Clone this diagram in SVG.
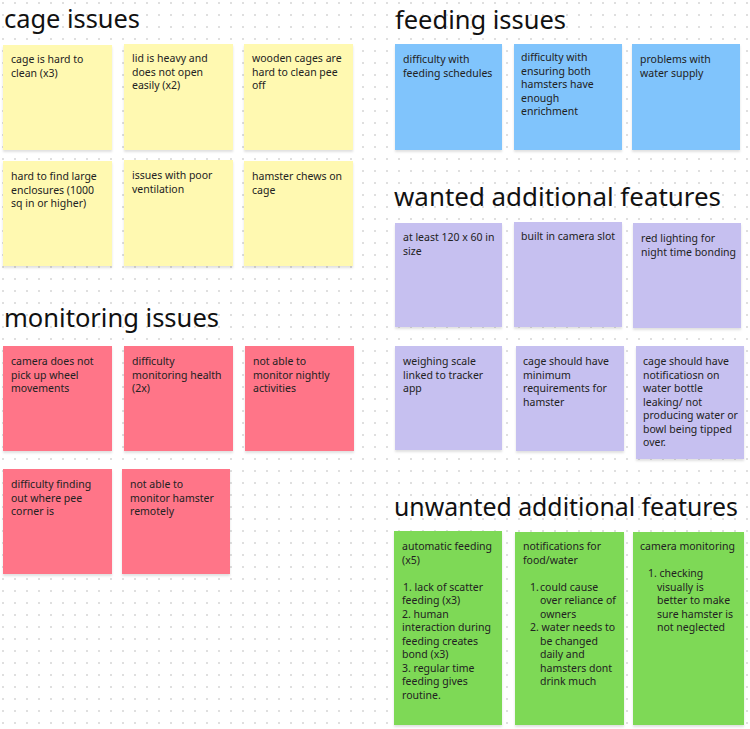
<svg xmlns="http://www.w3.org/2000/svg" width="750" height="729" viewBox="0 0 750 729">
<defs>
<pattern id="dots" x="0" y="0" width="12" height="12" patternUnits="userSpaceOnUse"><circle cx="3" cy="3" r="1" fill="#d4d4d4"/></pattern>
<filter id="sh" x="-5%" y="-5%" width="110%" height="115%"><feDropShadow dx="0" dy="2" stdDeviation="1" flood-color="#000" flood-opacity="0.12"/></filter>
</defs>
<style>
.t{font-family:"Noto Sans","Liberation Sans",sans-serif;font-size:25px;fill:#111}
.n{font-family:"Noto Sans","Liberation Sans",sans-serif;font-size:10.5px;fill:#222}
.y{fill:#fff9b1;filter:url(#sh)}
.r{fill:#ff7588;filter:url(#sh)}
.b{fill:#80c4fc;filter:url(#sh)}
.p{fill:#c6c0f0;filter:url(#sh)}
.g{fill:#7ed957;filter:url(#sh)}
</style>
<rect width="750" height="729" fill="#fff"/>
<rect width="750" height="729" fill="url(#dots)"/>
<g id="titles">
<text class="t" x="4" y="28" textLength="136" lengthAdjust="spacingAndGlyphs">cage issues</text>
<text class="t" x="4" y="327" textLength="215" lengthAdjust="spacingAndGlyphs">monitoring issues</text>
<text class="t" x="395" y="29" textLength="171" lengthAdjust="spacingAndGlyphs">feeding issues</text>
<text class="t" x="394" y="206" textLength="327" lengthAdjust="spacingAndGlyphs">wanted additional features</text>
<text class="t" x="394" y="516" textLength="344" lengthAdjust="spacingAndGlyphs">unwanted additional features</text>
</g>
<g id="connectors"/>
<g id="cage1"><rect class="y" x="3" y="45" width="109" height="105"/><text class="n" x="11" y="63">cage is hard to<tspan x="11" dy="13.5">clean (x3)</tspan></text></g>
<g id="cage2"><rect class="y" x="124" y="44" width="109" height="106"/><text class="n" x="132" y="62">lid is heavy and<tspan x="132" dy="13.5">does not open</tspan><tspan x="132" dy="13.5">easily (x2)</tspan></text></g>
<g id="cage3"><rect class="y" x="244" y="44" width="109" height="106"/><text class="n" x="252" y="62">wooden cages are<tspan x="252" dy="13.5">hard to clean pee</tspan><tspan x="252" dy="13.5">off</tspan></text></g>
<g id="cage4"><rect class="y" x="3" y="161" width="109" height="105"/><text class="n" x="11" y="180">hard to find large<tspan x="11" dy="13.5">enclosures (1000</tspan><tspan x="11" dy="13.5">sq in or higher)</tspan></text></g>
<g id="cage5"><rect class="y" x="124" y="160" width="109" height="106"/><text class="n" x="132" y="179">issues with poor<tspan x="132" dy="13.5">ventilation</tspan></text></g>
<g id="cage6"><rect class="y" x="244" y="161" width="109" height="105"/><text class="n" x="252" y="180">hamster chews on<tspan x="252" dy="13.5">cage</tspan></text></g>
<g id="mon1"><rect class="r" x="3" y="346" width="109" height="105"/><text class="n" x="11" y="365">camera does not<tspan x="11" dy="13.5">pick up wheel</tspan><tspan x="11" dy="13.5">movements</tspan></text></g>
<g id="mon2"><rect class="r" x="124" y="346" width="109" height="105"/><text class="n" x="132" y="365">difficulty<tspan x="132" dy="13.5">monitoring health</tspan><tspan x="132" dy="13.5">(2x)</tspan></text></g>
<g id="mon3"><rect class="r" x="245" y="346" width="109" height="105"/><text class="n" x="253" y="365">not able to<tspan x="253" dy="13.5">monitor nightly</tspan><tspan x="253" dy="13.5">activities</tspan></text></g>
<g id="mon4"><rect class="r" x="3" y="469" width="109" height="105"/><text class="n" x="11" y="488">difficulty finding<tspan x="11" dy="13.5">out where pee</tspan><tspan x="11" dy="13.5">corner is</tspan></text></g>
<g id="mon5"><rect class="r" x="122" y="469" width="108" height="105"/><text class="n" x="130" y="488">not able to<tspan x="130" dy="13.5">monitor hamster</tspan><tspan x="130" dy="13.5">remotely</tspan></text></g>
<g id="feed1"><rect class="b" x="395" y="44" width="107" height="106"/><text class="n" x="403" y="63">difficulty with<tspan x="403" dy="13.5">feeding schedules</tspan></text></g>
<g id="feed2"><rect class="b" x="514" y="44" width="108" height="106"/><text class="n" x="521" y="61">difficulty with<tspan x="521" dy="13.5">ensuring both</tspan><tspan x="521" dy="13.5">hamsters have</tspan><tspan x="521" dy="13.5">enough</tspan><tspan x="521" dy="13.5">enrichment</tspan></text></g>
<g id="feed3"><rect class="b" x="632" y="44" width="108" height="106"/><text class="n" x="640" y="63">problems with<tspan x="640" dy="13.5">water supply</tspan></text></g>
<g id="want1"><rect class="p" x="395" y="223" width="107" height="104"/><text class="n" x="403" y="241">at least 120 x 60 in<tspan x="403" dy="13.5">size</tspan></text></g>
<g id="want2"><rect class="p" x="514" y="222" width="108" height="105"/><text class="n" x="521" y="240">built in camera slot</text></g>
<g id="want3"><rect class="p" x="633" y="223" width="108" height="105"/><text class="n" x="641" y="242">red lighting for<tspan x="641" dy="13.5">night time bonding</tspan></text></g>
<g id="want4"><rect class="p" x="395" y="346" width="107" height="104"/><text class="n" x="403" y="365">weighing scale<tspan x="403" dy="13.5">linked to tracker</tspan><tspan x="403" dy="13.5">app</tspan></text></g>
<g id="want5"><rect class="p" x="516" y="346" width="108" height="105"/><text class="n" x="523" y="365">cage should have<tspan x="523" dy="13.5">minimum</tspan><tspan x="523" dy="13.5">requirements for</tspan><tspan x="523" dy="13.5">hamster</tspan></text></g>
<g id="want6"><rect class="p" x="636" y="346" width="108" height="113"/><text class="n" x="643" y="365">cage should have<tspan x="643" dy="13.5">notificatiosn on</tspan><tspan x="643" dy="13.5">water bottle</tspan><tspan x="643" dy="13.5">leaking/ not</tspan><tspan x="643" dy="13.5">producing water or</tspan><tspan x="643" dy="13.5">bowl being tipped</tspan><tspan x="643" dy="13.5">over.</tspan></text></g>
<g id="unw1"><rect class="g" x="394" y="531" width="108" height="194"/><text class="n" x="402" y="550">automatic feeding<tspan x="402" dy="13.5">(x5)</tspan><tspan x="403" dy="27">1. lack of scatter</tspan><tspan x="402" dy="13.5">feeding (x3)</tspan><tspan x="402" dy="13.5">2.  human</tspan><tspan x="402" dy="13.5">interaction during</tspan><tspan x="402" dy="13.5">feeding creates</tspan><tspan x="402" dy="13.5">bond (x3)</tspan><tspan x="402" dy="13.5">3. regular time</tspan><tspan x="402" dy="13.5">feeding gives</tspan><tspan x="402" dy="13.5">routine.</tspan></text></g>
<g id="unw2"><rect class="g" x="515" y="532" width="109" height="193"/><text class="n" x="523" y="550">notifications for<tspan x="523" dy="13.5">food/water</tspan><tspan x="530" dy="27">1.</tspan><tspan x="540">could cause</tspan><tspan x="540" dy="13.5">over reliance of</tspan><tspan x="540" dy="13.5">owners</tspan><tspan x="530" dy="13.5">2. water needs to</tspan><tspan x="540" dy="13.5">be changed</tspan><tspan x="540" dy="13.5">daily and</tspan><tspan x="540" dy="13.5">hamsters dont</tspan><tspan x="540" dy="13.5">drink much</tspan></text></g>
<g id="unw3"><rect class="g" x="633" y="532" width="111" height="193"/><text class="n" x="640" y="550">camera monitoring<tspan x="648" dy="27">1. checking</tspan><tspan x="657" dy="13.5">visually is</tspan><tspan x="657" dy="13.5">better  to make</tspan><tspan x="657" dy="13.5">sure hamster is</tspan><tspan x="657" dy="13.5">not neglected</tspan></text></g>
</svg>
